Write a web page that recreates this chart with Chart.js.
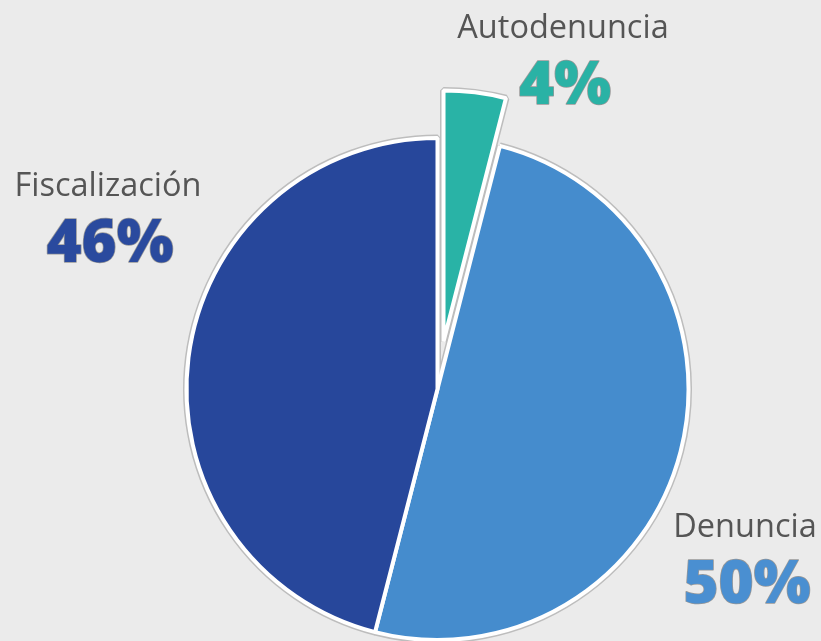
<!DOCTYPE html>
<html>
<head>
<meta charset="utf-8">
<script src="https://cdn.jsdelivr.net/npm/chart.js@4.4.1/dist/chart.umd.min.js"></script>
<style>
  html, body { margin: 0; padding: 0; background: #ebebeb; }
  #wrap { width: 821px; height: 641px; }
</style>
</head>
<body>
<div id="wrap"><canvas id="chart" width="821" height="641"></canvas></div>
<script>
const labels = ["Autodenuncia", "Denuncia", "Fiscalización"];
const values = [4, 50, 46];
const colors = ["#29b3a6", "#458ccd", "#27479b"];
const textColors = ["#2ab2a5", "#4a8fd1", "#2a4a9e"];
const explode = [48, 0, 0];

// where each label block sits (text centre x, name baseline y)
const labelPos = [
  { x: 563, y: 38 },
  { x: 745, y: 537 },
  { x: 108, y: 196 }
];

// pull slices out from the centre along their mid angle
const explodePlugin = {
  id: "explode",
  beforeDatasetsDraw(chart) {
    const area = chart.chartArea;
    const cx = (area.left + area.right) / 2;
    const cy = (area.top + area.bottom) / 2;
    chart.getDatasetMeta(0).data.forEach((arc, i) => {
      const mid = (arc.startAngle + arc.endAngle) / 2;
      arc.x = cx + Math.cos(mid) * explode[i];
      arc.y = cy + Math.sin(mid) * explode[i];
    });
  }
};

// gray rim under the white slice borders
const rimPlugin = {
  id: "rim",
  beforeDatasetsDraw(chart) {
    const ctx = chart.ctx;
    chart.getDatasetMeta(0).data.forEach(arc => {
      const saved = arc.options;
      arc.options = Object.assign({}, saved, { borderColor: "#bdbdbd", borderWidth: 7 });
      arc.draw(ctx);
      arc.options = saved;
    });
  }
};

const labelPlugin = {
  id: "labels",
  afterDraw(chart) {
    const ctx = chart.ctx;
    const total = values.reduce((a, b) => a + b, 0);
    ctx.save();
    ctx.textAlign = "center";
    ctx.textBaseline = "alphabetic";
    labels.forEach((name, i) => {
      const p = labelPos[i];
      ctx.font = "32.5px 'Open Sans'";
      ctx.fillStyle = "#555555";
      ctx.fillText(name, p.x, p.y);

      const pct = Math.round(values[i] / total * 100) + "%";
      ctx.font = "800 60px 'Open Sans'";
      ctx.lineWidth = 1.5;
      ctx.lineJoin = "round";
      ctx.strokeStyle = "rgba(70,70,70,0.5)";
      ctx.strokeText(pct, p.x + 2, p.y + 66);
      ctx.fillStyle = textColors[i];
      ctx.fillText(pct, p.x + 2, p.y + 66);
    });
    ctx.restore();
  }
};

new Chart(document.getElementById("chart"), {
  type: "pie",
  data: {
    labels: labels,
    datasets: [{
      data: values,
      backgroundColor: colors,
      borderColor: "#ffffff",
      borderWidth: 4
    }]
  },
  options: {
    responsive: false,
    animation: false,
    radius: 251,
    layout: { padding: { left: 54, right: 0, top: 137, bottom: 0 } },
    plugins: {
      legend: { display: false },
      tooltip: { enabled: false }
    }
  },
  plugins: [explodePlugin, rimPlugin, labelPlugin]
});
</script>
</body>
</html>
